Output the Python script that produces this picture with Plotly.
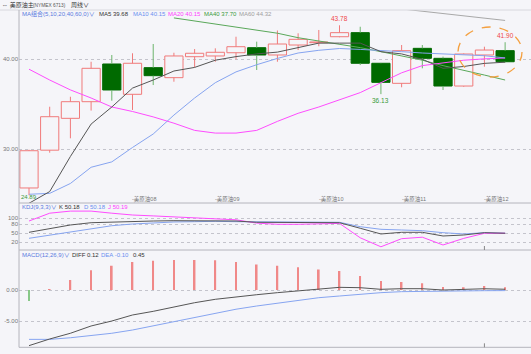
import plotly.graph_objects as go

W, H = 531, 354

# ---------------- data (weekly candles) ----------------
idx = list(range(24))
opens  = [25.70, 29.90, 33.44, 35.29, 39.48, 36.11, 39.07, 37.96, 40.29, 40.37, 40.73, 41.29,
          40.48, 41.59, 41.85, 42.51, 42.96, 39.56, 37.33, 41.22, 40.11, 37.03, 40.48, 40.96]
closes = [29.84, 33.62, 35.29, 39.00, 36.59, 39.56, 38.18, 40.37, 40.67, 40.78, 41.40, 40.48,
          41.70, 42.22, 41.93, 42.96, 39.56, 37.44, 40.96, 40.11, 37.03, 40.59, 41.03, 39.73]
highs  = [29.95, 34.73, 35.84, 39.73, 40.48, 40.67, 41.70, 40.73, 41.14, 41.22, 42.51, 41.96,
          43.20, 42.89, 43.26, 43.78, 43.62, 39.60, 41.59, 41.59, 40.30, 40.65, 41.40, 41.90]
lows   = [24.89, 29.62, 31.22, 34.30, 35.40, 34.37, 37.14, 37.51, 39.11, 39.73, 40.00, 38.81,
          39.73, 41.03, 41.45, 42.45, 39.36, 36.13, 36.89, 39.00, 36.59, 36.95, 39.18, 39.65]

ma5  = [24.0, 25.3, 29.2, 32.8, 34.7, 36.8, 37.7, 38.7, 39.1, 39.9, 40.3, 40.6,
        40.8, 41.3, 41.8, 41.8, 41.8, 40.85, 40.6, 40.0, 39.0, 39.2, 39.55, 39.68]
ma10 = [25.0, 25.1, 26.2, 28.0, 28.6, 30.2, 31.7, 33.8, 35.7, 37.4, 38.6, 39.4,
        40.1, 40.7, 41.0, 41.2, 41.1, 41.0, 40.85, 40.7, 40.6, 40.5, 40.4, 40.15]
ma20 = [38.9, 37.7, 36.6, 35.7, 34.7, 34.2, 33.6, 32.9, 32.1, 31.8, 31.8, 32.1,
        33.1, 34.0, 34.7, 35.5, 36.3, 37.4, 38.5, 39.3, 39.6, 39.9, 40.05, 40.15]
ma40 = [None, None, None, None, None, None, None, 44.6, 44.25, 43.9, 43.55, 43.2,
        42.9, 42.4, 42.05, 41.7, 41.3, 40.85, 40.35, 39.9, 39.3, 38.8, 38.25, 37.70]
ma60 = [None] * 18 + [45.6, 45.34, 45.09, 44.83, 44.58, 44.32]

kdj_k = [53.3, 66.7, 77.7, 85.3, 87.7, 88.7, 91, 92, 92, 91, 91, 86.7,
         86.7, 85.3, 85.3, 85.3, 66.7, 47.7, 53.3, 53.3, 41, 44.3, 52, 50.18]
kdj_d = [33.3, 44.3, 55.3, 66.7, 75.3, 81, 85.3, 87.7, 88.7, 90, 88.7, 88.7,
         87.7, 87.7, 86.7, 86.7, 72, 63.3, 61, 58.7, 52, 47.7, 52, 50.18]
kdj_j = [91, 117, 124, 124, 117, 111, 108, 105, 103, 100, 95, 84,
         80, 80, 81, 83, 35, 5, 32, 37, 11, 33, 50, 50.19]

diff = [-8.97, -7.9, -6.98, -5.8, -5.0, -4.03, -3.44, -2.69, -2.05, -1.5, -1.08, -0.76,
        -0.43, -0.11, 0.11, 0.43, 0.37, 0.11, 0.21, 0.21, 0.0, 0.1, 0.2, 0.12]
dea  = [-7.96, -7.96, -7.7, -7.37, -6.98, -6.45, -5.8, -5.1, -4.4, -3.76, -3.1, -2.58,
        -2.1, -1.66, -1.24, -0.97, -0.65, -0.43, -0.27, -0.2, -0.16, -0.13, -0.11, -0.10]
hist = [-1.77, 0.05, 1.6, 3.2, 3.9, 4.5, 4.7, 4.84, 4.84, 4.8, 4.5, 4.1,
        3.9, 3.65, 3.3, 3.06, 2.26, 1.45, 1.3, 1.07, 0.48, 0.43, 0.65, 0.45]

month_ticks = [5, 9, 14, 18, 22]
month_labels = ["美原油08", "美原油09", "美原油10", "美原油11", "美原油12"]

main_ticks = [30, 40]
kdj_ticks = [20, 50, 80, 100]
macd_ticks = [-5, 0]

# ---------------- styles ----------------
BG = '#f5f5f9'
RED = '#f07a7a'
GREEN = '#006a00'
GREEN_WICK = '#6cb46c'
C_MA5 = '#555555'
C_MA10 = '#86a4f0'
C_MA20 = '#ff4cff'
C_MA40 = '#5aa85a'
C_MA60 = '#a8a8a8'
GRID = '#c4c4cc'
FONT = 'Liberation Sans, Noto Sans CJK SC, sans-serif'


def ydom(top_px, bot_px):
    return [1 - bot_px / H, 1 - top_px / H]


def py(p):
    return 1 - p / H


fig = go.Figure()

# ---------------- candles ----------------
up = [c >= o for o, c in zip(opens, closes)]
body_base = [min(o, c) for o, c in zip(opens, closes)]
body_h = [max(abs(c - o), 0.05) for o, c in zip(opens, closes)]

for is_up, lc, fc, wc in [(True, RED, BG, RED), (False, GREEN, GREEN, GREEN_WICK)]:
    xs = [i for i in idx if up[i] == is_up]
    wx, wy = [], []
    for i in xs:
        top = max(opens[i], closes[i])
        bot = min(opens[i], closes[i])
        wx += [i, i, None, i, i, None]
        wy += [top, highs[i], None, bot, lows[i], None]
    fig.add_trace(go.Scatter(x=wx, y=wy, mode='lines', line=dict(color=wc, width=1),
                             hoverinfo='skip', xaxis='x', yaxis='y'))
    fig.add_trace(go.Bar(x=xs, y=[body_h[i] for i in xs], base=[body_base[i] for i in xs],
                         width=0.88, marker=dict(color=fc, line=dict(color=lc, width=1)),
                         xaxis='x', yaxis='y'))

for ys, col in [(ma60, C_MA60), (ma40, C_MA40), (ma20, C_MA20), (ma10, C_MA10), (ma5, C_MA5)]:
    fig.add_trace(go.Scatter(x=idx, y=ys, mode='lines', line=dict(color=col, width=1),
                             xaxis='x', yaxis='y'))

# ---------------- KDJ ----------------
for ys, col in [(kdj_d, C_MA10), (kdj_j, C_MA20), (kdj_k, C_MA5)]:
    fig.add_trace(go.Scatter(x=idx, y=ys, mode='lines', line=dict(color=col, width=1),
                             xaxis='x2', yaxis='y2'))

# ---------------- MACD ----------------
fig.add_trace(go.Bar(x=idx, y=hist, width=0.08,
                     marker=dict(color=['#f08888' if v >= 0 else '#88c888' for v in hist],
                                 line=dict(width=0)),
                     xaxis='x3', yaxis='y3'))
fig.add_trace(go.Scatter(x=idx, y=dea, mode='lines', line=dict(color=C_MA10, width=1),
                         xaxis='x3', yaxis='y3'))
fig.add_trace(go.Scatter(x=idx, y=diff, mode='lines', line=dict(color=C_MA5, width=1),
                         xaxis='x3', yaxis='y3'))

xr = [-0.483, 24.25]
xdom = [19 / W, 1]
xcommon = dict(range=xr, domain=xdom, showgrid=False, zeroline=False, showticklabels=False,
               ticks='', showline=False, fixedrange=True)
ycommon = dict(showgrid=True, gridcolor=GRID, griddash='dot', gridwidth=1, zeroline=False,
               ticks='', showline=False, tickfont=dict(size=6, color='#777777', family=FONT),
               fixedrange=True)

fig.update_layout(
    width=W, height=H, margin=dict(l=0, r=0, t=0, b=0),
    paper_bgcolor=BG, plot_bgcolor=BG, showlegend=False, barmode='overlay',
    font=dict(family=FONT),
    xaxis=dict(anchor='y', **xcommon),
    xaxis2=dict(anchor='y2', **xcommon),
    xaxis3=dict(anchor='y3', **xcommon),
    yaxis=dict(domain=ydom(10, 203), range=[24.03, 45.48], tickvals=main_ticks,
               ticktext=[f"{v:.2f}" for v in main_ticks], **ycommon),
    yaxis2=dict(domain=ydom(203, 250), range=[-5.7, 151], tickvals=kdj_ticks,
                ticktext=[str(v) for v in kdj_ticks], **ycommon),
    yaxis3=dict(domain=ydom(250, 347.3), range=[-9.24, 6.45], tickvals=macd_ticks,
                ticktext=[f"{v:.2f}" for v in macd_ticks], **ycommon),
)

# ---------------- frame lines ----------------
LINE = '#b4b4bc'
shapes = [
    dict(type='line', xref='paper', yref='paper', x0=0, x1=1, y0=py(10), y1=py(10),
         line=dict(color='#d8d8de', width=1)),
    dict(type='line', xref='paper', yref='paper', x0=19 / W, x1=19 / W, y0=py(10), y1=py(347.3),
         line=dict(color=LINE, width=1)),
    dict(type='line', xref='paper', yref='paper', x0=19 / W, x1=1, y0=py(203), y1=py(203),
         line=dict(color=LINE, width=1)),
    dict(type='line', xref='paper', yref='paper', x0=19 / W, x1=1, y0=py(250), y1=py(250),
         line=dict(color=LINE, width=1)),
    dict(type='line', xref='paper', yref='paper', x0=19 / W, x1=1, y0=py(347.3), y1=py(347.3),
         line=dict(color=LINE, width=1)),
    dict(type='line', xref='x2', yref='paper', x0=month_ticks[-1], x1=month_ticks[-1],
         y0=py(250), y1=py(246), line=dict(color='#888888', width=1)),
    dict(type='line', xref='x3', yref='paper', x0=month_ticks[-1], x1=month_ticks[-1],
         y0=py(347.3), y1=py(343.3), line=dict(color='#888888', width=1)),
    dict(type='circle', xref='paper', yref='paper', x0=458 / W, x1=522 / W,
         y0=py(77), y1=py(27), line=dict(color='#f4a040', width=1.3, dash='dash')),
]
fig.update_layout(shapes=shapes)

# ---------------- texts ----------------
ann = []


def txt(x_px, y_px, s, color, size=6):
    ann.append(dict(x=x_px / W, y=py(y_px), xref='paper', yref='paper', text=s,
                    showarrow=False, xanchor='left', yanchor='middle',
                    font=dict(size=size, color=color, family=FONT)))


txt(0, 5, "⇔ 美原油主", '#333333', 6)
txt(31, 5, "(NYMEX 6713)", '#555555', 4.8)
txt(69, 5, "周线∨", '#333333', 6)

txt(20, 14, "MA组合(5,10,20,40,60,0)∨", '#5a7ae0')
txt(97, 14, "MA5 39.68", '#333333')
txt(131, 14, "MA10 40.15", '#6a8ff0')
txt(166, 14, "MA20 40.15", '#ff3cff')
txt(202, 14, "MA40 37.70", '#3a9a3a')
txt(237, 14, "MA60 44.32", '#a0a0a0')

txt(20, 206.5, "KDJ(9,3,3)∨", '#5a7ae0')
txt(57, 206.5, f"K {kdj_k[-1]:.2f}", '#333333')
txt(82, 206.5, f"D {kdj_d[-1]:.2f}", '#6a8ff0')
txt(106, 206.5, f"J {kdj_j[-1]:.2f}", '#ff3cff')

txt(20, 254.5, "MACD(12,26,9)∨", '#5a7ae0')
txt(70, 254.5, f"DIFF {diff[-1]:.2f}", '#333333')
txt(99, 254.5, f"DEA {dea[-1]:.2f}", '#6a8ff0')
txt(131, 254.5, f"{hist[-1]:.2f}", '#333333')

for t, lab in zip(month_ticks, month_labels):
    ann.append(dict(x=t - 0.1, y=py(199), xref='x', yref='paper', text="-" + lab,
                    showarrow=False, xanchor='left', yanchor='middle',
                    font=dict(size=5.5, color='#777777', family=FONT)))

# extreme labels
ann.append(dict(x=15, y=highs[15], xref='x', yref='y', text=f"{highs[15]:.2f}", showarrow=False,
                yanchor='bottom', yshift=1, font=dict(size=6.5, color='#f04848', family=FONT)))
ann.append(dict(x=23, y=highs[23], xref='x', yref='y', text=f"{highs[23]:.2f}", showarrow=False,
                yanchor='bottom', yshift=1, font=dict(size=6.5, color='#f04848', family=FONT)))
ann.append(dict(x=17, y=lows[17], xref='x', yref='y', text=f"{lows[17]:.2f}", showarrow=False,
                yanchor='top', yshift=-1, font=dict(size=6.5, color='#3a9a3a', family=FONT)))
ann.append(dict(x=0, y=lows[0], xref='x', yref='y', text=f"{lows[0]:.2f}", showarrow=False,
                yanchor='top', yshift=3, font=dict(size=6, color='#3a9a3a', family=FONT)))

fig.update_layout(annotations=ann)

fig.write_html("out.html")
